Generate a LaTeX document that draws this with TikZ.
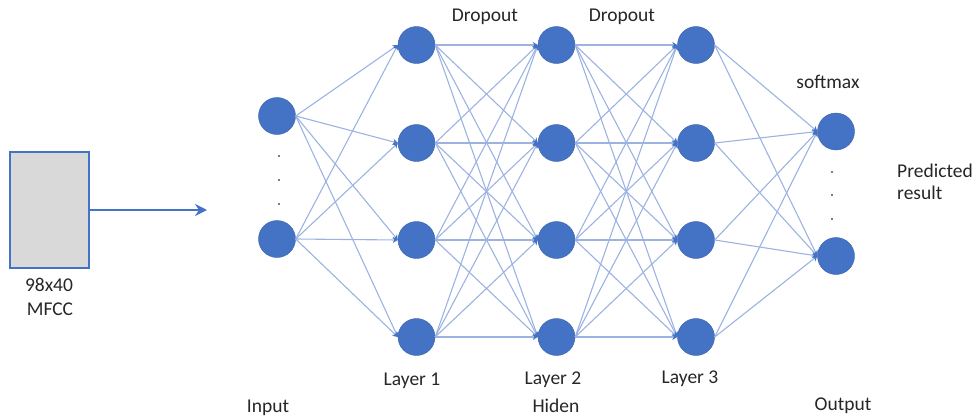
\documentclass[tikz,border=0pt]{standalone}
\usepackage{fontspec}
\setmainfont{Carlito}
\usetikzlibrary{arrows.meta}
\definecolor{nodeblue}{HTML}{4472C4}
\definecolor{linkblue}{HTML}{9CB3E2}
\definecolor{txt}{HTML}{262626}
\begin{document}
\begin{tikzpicture}[x=1pt,y=-1pt,
  neuron/.style={circle,fill=nodeblue,draw=nodeblue!85!black,line width=0.4pt,minimum size=37pt,inner sep=0pt},
  link/.style={draw=linkblue,line width=1.1pt,-{Stealth[length=5pt,width=6pt,color=nodeblue]}},
  lbl/.style={font=\fontsize{19.5}{22}\selectfont,text=txt,inner sep=0pt},
  dotmark/.style={circle,fill=txt!80,inner sep=0pt,minimum size=2.2pt}]
\useasboundingbox (0,0) rectangle (977,418);

% MFCC feature block
\node[draw=nodeblue,fill=black!15,line width=1.2pt,minimum width=79pt,minimum height=116pt,inner sep=0pt] (mfcc) at (49.5,210) {};
\node[lbl] (mfcctxt1) at (49,285) {98x40};
\node[lbl] (mfcctxt2) at (50,309) {MFCC};
\coordinate (feed) at (207,210);
\draw[draw=nodeblue,line width=1.2pt,-{Stealth[length=12pt,width=12pt]}] (mfcc.east) -- (feed);

% neurons
\node[neuron] (i1) at (277,116) {};
\node[neuron] (i2) at (277,239) {};
\foreach \n/\y in {1/45,2/143,3/240,4/337}{
  \node[neuron] (a\n) at (416.5,\y) {};
  \node[neuron] (b\n) at (556.5,\y) {};
  \node[neuron] (c\n) at (696,\y) {};
}
\node[neuron] (o1) at (836,131.5) {};
\node[neuron] (o2) at (836,256) {};

% connections
\foreach \s in {1,2}{\foreach \t in {1,...,4}{\draw[link] (i\s.east) -- (a\t.west);}}
\foreach \s in {1,...,4}{\foreach \t in {1,...,4}{
  \draw[link] (a\s.east) -- (b\t.west);
  \draw[link] (b\s.east) -- (c\t.west);}}
\foreach \s in {1,...,4}{\foreach \t in {1,2}{\draw[link] (c\s.east) -- (o\t.west);}}

% ellipsis dots
\foreach \y [count=\k] in {156,180,204}{\node[dotmark] (di\k) at (279,\y) {};}
\foreach \y [count=\k] in {172,195,219}{\node[dotmark] (do\k) at (832,\y) {};}

% labels
\node[lbl] (drop1) at (485,17) {Dropout};
\node[lbl] (drop2) at (622,17) {Dropout};
\node[lbl] (soft) at (828,82) {softmax};
\node[lbl,anchor=west] (pred1) at (897,171) {Predicted};
\node[lbl,anchor=west] (pred2) at (897,193) {result};
\node[lbl] (l1) at (412,381) {Layer 1};
\node[lbl] (l2) at (553,380) {Layer 2};
\node[lbl] (l3) at (690,379) {Layer 3};
\node[lbl] (inp) at (268,408) {Input};
\node[lbl] (hid) at (556,406) {Hiden};
\node[lbl] (outp) at (843,406) {Output};
\end{tikzpicture}
\end{document}
